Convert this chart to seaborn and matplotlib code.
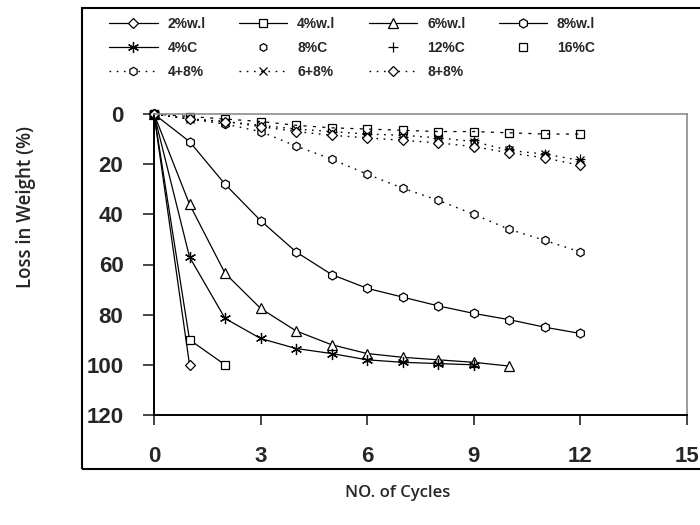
import numpy as np
import seaborn as sns
import matplotlib.pyplot as plt
from matplotlib.patches import Rectangle

# cycles (x) and loss in weight (%) per series
cycles = list(range(13))
w2 = [0, 100]
w4 = [0, 90, 100]
w6 = [0, 36, 63.5, 77.5, 86.5, 92, 95.5, 97, 98, 99, 100.5]
w8 = [0, 11, 28, 42.5, 55, 64, 69.5, 73, 76.5, 79.5, 82, 85, 87.5]
c4 = [0, 57, 81.5, 89.5, 93.5, 95.5, 98, 99, 99.5, 100]
c8 = [0, 2, 3, 4, 5.5, 6.5, 7.5, 8.5, 10, 11, 14, 16.5, 19.5]
c12 = [0, 2, 3, 4.5, 6, 7, 8, 9, 9.5, 10.5, 14, 16, 18]
c16 = [0, 1, 2, 3, 4.5, 5.5, 6, 6.5, 7, 7, 7.5, 8, 8]
m48 = [0, 2, 4, 7, 12.8, 18, 24, 29.6, 34.4, 40, 46, 50.4, 55]
m68 = [0, 2, 3, 4.5, 6, 7, 8, 8.5, 9.5, 11, 14.5, 16, 18.5]
m88 = [0, 2, 3, 5, 7, 8.5, 9.5, 10.5, 11.5, 13, 15.5, 17.5, 20.5]

xticks = [0, 3, 6, 9, 12, 15]
yticks = [0, 20, 40, 60, 80, 100, 120]

sns.set_style("white")
plt.rcParams['font.family'] = ['Liberation Sans', 'DejaVu Sans']

W, H = 700, 525
fig = plt.figure(figsize=(7, 5.25), dpi=100)
ax = fig.add_axes([154 / W, 1 - 415 / H, (687 - 154) / W, (415 - 114) / H])

solid = dict(color='black', lw=0.9, mfc='white', mec='black', mew=0.9, clip_on=False)
dotted = dict(color='black', lw=1.0, ls=(0, (1.2, 4)), mfc='white', mec='black', mew=0.9, clip_on=False)
only = dict(color='black', ls='none', mfc='white', mec='black', mew=0.9, clip_on=False)

asterisk = (6, 2, 0)

sns.lineplot(x=cycles[:len(w2)], y=w2, ax=ax, marker='D', ms=5, label='2%w.l', **solid)
sns.lineplot(x=cycles[:len(w4)], y=w4, ax=ax, marker='s', ms=6, label='4%w.l', **solid)
sns.lineplot(x=cycles[:len(w6)], y=w6, ax=ax, marker='^', ms=7, label='6%w.l', **solid)
sns.lineplot(x=cycles[:len(w8)], y=w8, ax=ax, marker='h', ms=6.5, label='8%w.l', **solid)
sns.lineplot(x=cycles[:len(c4)], y=c4, ax=ax, marker=asterisk, ms=8, label='4%C', **solid)
sns.lineplot(x=cycles, y=c8, ax=ax, marker='h', ms=5.5, label='8%C', **only)
sns.lineplot(x=cycles, y=c12, ax=ax, marker='+', ms=7, label='12%C', **only)
sns.lineplot(x=cycles, y=c16, ax=ax, marker='s', ms=6, label='16%C', **only)
sns.lineplot(x=cycles, y=c16, ax=ax, color='black', lw=0.9, ls=(0, (2.5, 5)), legend=False)
sns.lineplot(x=cycles, y=m48, ax=ax, marker='h', ms=6, label='4+8%', **dotted)
sns.lineplot(x=cycles, y=m68, ax=ax, marker='x', ms=6, label='6+8%', **dotted)
sns.lineplot(x=cycles, y=m88, ax=ax, marker='D', ms=5, label='8+8%', **dotted)

ax.set_xlim(0, 15)
ax.set_ylim(120, 0)
ax.set_xticks(xticks)
ax.set_yticks(yticks)
ax.set_xticklabels([str(t) for t in xticks], fontsize=16, fontweight='bold')
ax.set_yticklabels([str(t) for t in yticks], fontsize=16, fontweight='bold')
ax.tick_params(axis='x', direction='out', length=7, width=1.2, pad=15, bottom=True)
ax.tick_params(axis='y', direction='out', length=8, width=1.2, pad=14, left=True)
ax.set_xlabel('')
ax.set_ylabel('')
for s in ['left', 'bottom']:
    ax.spines[s].set_color('black')
    ax.spines[s].set_linewidth(1.4)
for s in ['top', 'right']:
    ax.spines[s].set_color('#8c8c8c')
    ax.spines[s].set_linewidth(1.2)

# legend reads row by row in the reference; matplotlib fills columns first
handles, labels = ax.get_legend_handles_labels()
ax.get_legend().remove()
order = [0, 4, 8, 1, 5, 9, 2, 6, 10, 3, 7]
fig.legend([handles[i] for i in order], [labels[i] for i in order], ncol=4, loc='upper left',
           bbox_to_anchor=(109 / W, 1 - 17 / H), frameon=False,
           prop=dict(family='Liberation Sans', weight='bold', size=10),
           handlelength=3.5, handletextpad=0.7, columnspacing=2.4,
           labelspacing=0.72, borderpad=0, borderaxespad=0)

# outer chart box, runs past the right edge like the reference
fig.patches.append(Rectangle((82 / W, 1 - 469 / H), 640 / W, (469 - 8) / H,
                             transform=fig.transFigure, fill=False,
                             edgecolor='black', lw=1.5, clip_on=False))

fig.text(26 / W, 1 - 207 / H, 'Loss in Weight (%)', rotation=90, ha='center', va='center',
         family='Open Sans', fontweight='semibold', fontsize=13.5)
fig.text(398 / W, 1 - 493 / H, 'NO. of Cycles', ha='center', va='center',
         family='Open Sans', fontweight='semibold', fontsize=12)

fig.savefig('out.png', dpi=100)
